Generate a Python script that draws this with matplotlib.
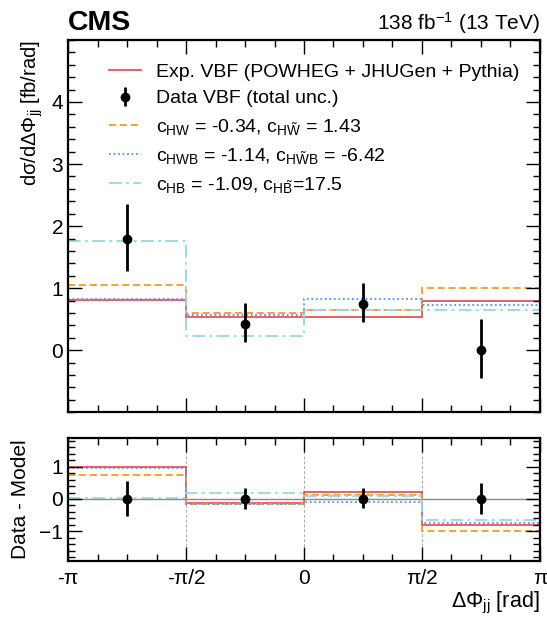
import numpy as np
import matplotlib
matplotlib.use("Agg")
import matplotlib.pyplot as plt
from matplotlib.ticker import MultipleLocator, FixedLocator

plt.rcParams["font.family"] = ["Liberation Sans", "DejaVu Sans"]
plt.rcParams["mathtext.fontset"] = "custom"
plt.rcParams["mathtext.rm"] = "Liberation Sans"
plt.rcParams["mathtext.it"] = "Liberation Sans:italic"
plt.rcParams["mathtext.bf"] = "Liberation Sans:bold"

# ---- DATA ----
bin_edges = [-np.pi, -np.pi / 2, 0, np.pi / 2, np.pi]
bin_centers = [-3 * np.pi / 4, -np.pi / 4, np.pi / 4, 3 * np.pi / 4]

data_vbf = [1.80, 0.43, 0.75, 0.00]
data_err_up = [0.55, 0.33, 0.33, 0.50]
data_err_dn = [0.52, 0.30, 0.29, 0.45]

exp_vbf = [0.81, 0.54, 0.54, 0.79]
c_hw = [1.05, 0.60, 0.64, 1.00]
c_hwb = [0.83, 0.57, 0.83, 0.73]
c_hb = [1.76, 0.23, 0.65, 0.65]

x_tick_labels = ["-π", "-π/2", "0", "π/2", "π"]

models = [
    (exp_vbf, "Exp. VBF (POWHEG + JHUGen + Pythia)", "#e42536", "-", 0.8),
    (c_hw, r"c$_{\mathrm{HW}}$ = -0.34, c$_{\mathrm{H}\tilde{\mathrm{W}}}$ = 1.43", "#f89c20", (0, (4, 2)), 1.0),
    (c_hwb, r"c$_{\mathrm{HWB}}$ = -1.14, c$_{\mathrm{H}\tilde{\mathrm{W}}\mathrm{B}}$ = -6.42", "#5790fc", (0, (1, 1.5)), 1.0),
    (c_hb, r"c$_{\mathrm{HB}}$ = -1.09, c$_{\mathrm{H}\tilde{\mathrm{B}}}$=17.5", "#92dadd", (0, (7, 2.5, 1.5, 2.5)), 1.0),
]

fig = plt.figure(figsize=(5.47, 6.19), dpi=100)
ax = fig.add_axes([0.1245, 0.334, 0.8625, 0.6015])
rax = fig.add_axes([0.1245, 0.0937, 0.8625, 0.1993])

# ---- MAIN PANEL ----
handles = []
for vals, label, color, ls, alpha in models:
    h = ax.stairs(vals, bin_edges, color=color, linestyle=ls, linewidth=1.3,
                  alpha=alpha, label=label, baseline=None)
    handles.append(h)

dh = ax.errorbar(bin_centers, data_vbf, yerr=[data_err_dn, data_err_up], fmt="o",
                 color="black", ms=6, elinewidth=2, capsize=0,
                 label="Data VBF (total unc.)")

ax.legend([handles[0], dh] + handles[1:],
          [models[0][1], "Data VBF (total unc.)"] + [m[1] for m in models[1:]],
          loc="upper left", bbox_to_anchor=(0.05, 0.985), frameon=False,
          fontsize=14, handlelength=1.65, handletextpad=0.75, labelspacing=0.47)

ax.set_xlim(-np.pi, np.pi)
ax.set_ylim(-1, 5)
ax.yaxis.set_major_locator(FixedLocator([0, 1, 2, 3, 4]))
ax.yaxis.set_minor_locator(MultipleLocator(0.2))
ax.xaxis.set_major_locator(MultipleLocator(np.pi / 2))
ax.xaxis.set_minor_locator(MultipleLocator(np.pi / 8))
ax.set_xticklabels([])
ax.set_ylabel(r"dσ/dΔΦ$_{\mathrm{jj}}$ [fb/rad]", fontsize=14.5, loc="top")

ax.text(0.0, 1.01, "CMS", transform=ax.transAxes, fontsize=20.5,
        fontweight="bold", ha="left", va="bottom")
ax.text(1.0, 1.01, r"138 fb$^{-1}$ (13 TeV)", transform=ax.transAxes,
        fontsize=15, ha="right", va="bottom")

# ---- RATIO PANEL ----
rax.axhline(0, color="#888888", linewidth=1.0, zorder=0)
for xe in bin_edges[1:-1]:
    rax.axvline(xe, color="#aaaaaa", linewidth=0.7, linestyle=(0, (3, 2)), zorder=0)

for vals, label, color, ls, alpha in models:
    diff = [d - v for d, v in zip(data_vbf, vals)]
    rax.stairs(diff, bin_edges, color=color, linestyle=ls, linewidth=1.3,
               alpha=alpha, baseline=None)

rax.errorbar(bin_centers, [0, 0, 0, 0], yerr=[data_err_dn, data_err_up], fmt="o",
             color="black", ms=6, elinewidth=2, capsize=0)

rax.set_xlim(-np.pi, np.pi)
rax.set_ylim(-1.92, 1.9)
rax.yaxis.set_major_locator(FixedLocator([-1, 0, 1]))
rax.yaxis.set_minor_locator(MultipleLocator(0.2))
rax.xaxis.set_major_locator(FixedLocator(bin_edges))
rax.xaxis.set_minor_locator(MultipleLocator(np.pi / 8))
rax.set_xticklabels(x_tick_labels)
rax.set_ylabel("Data - Model", fontsize=15)
rax.set_xlabel(r"ΔΦ$_{\mathrm{jj}}$ [rad]", fontsize=15.5, loc="right", labelpad=1)

for a in (ax, rax):
    a.tick_params(which="both", direction="in", top=True, right=True,
                  labelsize=15, width=1.0)
    a.tick_params(which="major", length=10)
    a.tick_params(which="minor", length=5)
    a.tick_params(axis="x", which="major", pad=6)
    for s in a.spines.values():
        s.set_linewidth(1.6)

ax.yaxis.set_label_coords(-0.05, 1.0)
rax.yaxis.set_label_coords(-0.08, 0.5)

fig.savefig("out.png", dpi=100)
